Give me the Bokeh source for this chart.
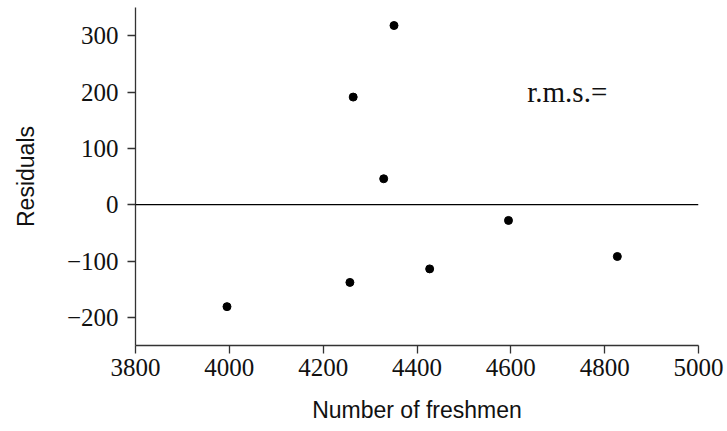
from bokeh.plotting import figure
from bokeh.models import Span, Range1d, FixedTicker, CustomJSTickFormatter, Label
from bokeh.embed import file_html
from bokeh.resources import INLINE

# data
freshmen = [3995, 4257, 4427, 4595, 4827, 4351, 4264, 4329]
residuals = [-181, -138, -114, -28, -92, 318, 191, 46]
x_ticks = [3800, 4000, 4200, 4400, 4600, 4800, 5000]
y_ticks = [-200, -100, 0, 100, 200, 300]
x_label = "Number of freshmen"
y_label = "Residuals"
annotation = "r.m.s.="

p = figure(width=727, height=431, output_backend="svg", toolbar_location=None,
           x_range=Range1d(3800, 5000), y_range=Range1d(-250, 350),
           min_border_left=135, min_border_right=29, min_border_top=7, min_border_bottom=86)
p.frame_width = 563
p.frame_height = 338
p.outline_line_color = None
p.grid.visible = False
p.background_fill_color = "white"
p.border_fill_color = "white"

fmt = CustomJSTickFormatter(code="return tick < 0 ? '\u2212' + Math.abs(tick) : tick.toString();")

for ax, ticks, lab in ((p.xaxis[0], x_ticks, x_label), (p.yaxis[0], y_ticks, y_label)):
    ax.ticker = FixedTicker(ticks=ticks)
    ax.minor_tick_line_color = None
    ax.major_tick_in = 0
    ax.major_tick_out = 8
    ax.axis_line_color = "#333333"
    ax.major_tick_line_color = "#333333"
    ax.axis_line_width = 1.3
    ax.major_tick_line_width = 1.3
    ax.major_label_text_font = "Liberation Serif"
    ax.major_label_text_font_size = "25px"
    ax.major_label_text_color = "#111111"
    ax.formatter = fmt
    ax.axis_label = lab
    ax.axis_label_text_font = "Liberation Sans"
    ax.axis_label_text_font_size = "23px"
    ax.axis_label_text_font_style = "normal"
    ax.axis_label_text_color = "#111111"

p.xaxis[0].major_label_standoff = 5
p.yaxis[0].major_label_standoff = 9
p.xaxis[0].axis_label_standoff = 18
p.yaxis[0].axis_label_standoff = 25

p.add_layout(Span(location=0, dimension="width", line_color="black", line_width=1.2))

p.scatter(freshmen, residuals, size=8, color="black")

p.add_layout(Label(x=4635, y=200, text=annotation, text_font="Liberation Serif",
                   text_font_size="29px", text_baseline="middle", text_color="#111111"))

open("out.html", "w").write(file_html(p, INLINE))
